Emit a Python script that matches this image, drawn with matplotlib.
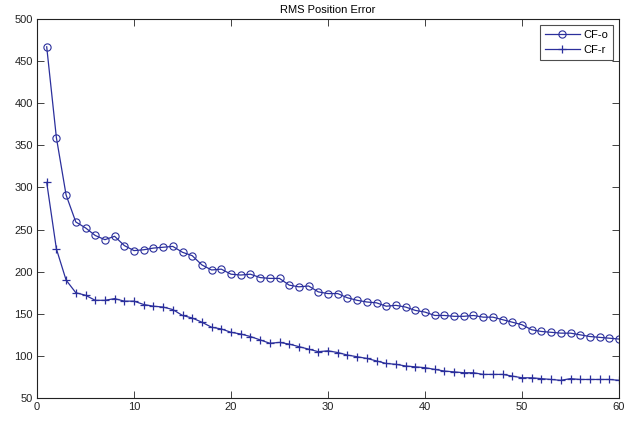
import matplotlib

matplotlib.use("Agg")
import matplotlib.pyplot as plt
import numpy as np

# Values.
steps = np.arange(1, 61)
cf_o = [
    467, 359, 291, 259, 252, 243, 238, 242, 231, 225,
    226, 228, 229, 230, 223, 219, 208, 202, 203, 197,
    196, 197, 193, 192, 192, 184, 182, 183, 176, 174,
    174, 169, 166, 164, 163, 159, 160, 158, 154, 152,
    148, 148, 147, 147, 148, 146, 146, 143, 140, 137,
    131, 129, 128, 127, 127, 125, 123, 122, 121, 120,
]
cf_r = [
    306, 227, 190, 175, 172, 166, 166, 168, 165, 165,
    161, 159, 158, 155, 148, 145, 140, 134, 132, 128,
    126, 123, 119, 115, 116, 114, 111, 108, 105, 106,
    104, 101, 99, 97, 94, 91, 90, 88, 87, 86,
    84, 82, 81, 80, 80, 78, 78, 78, 76, 74,
    74, 73, 72, 71, 73, 72, 72, 72, 72, 71,
]
x_ticks = [0, 10, 20, 30, 40, 50, 60]
y_ticks = [50, 100, 150, 200, 250, 300, 350, 400, 450, 500]

plt.rcParams["font.family"] = ["Liberation Sans", "DejaVu Sans"]

fig = plt.figure(figsize=(6.37, 4.21), dpi=100)
ax = fig.add_axes([37 / 637, 1 - 398 / 421, 582 / 637, 379 / 421])

color = "#2b2f9c"
ax.plot(steps, cf_o, color=color, linewidth=0.9, marker="o",
        markersize=5.2, markerfacecolor="none", markeredgewidth=0.8,
        label="CF-o")
ax.plot(steps, cf_r, color=color, linewidth=0.9, marker="+",
        markersize=6, markeredgewidth=0.9, label="CF-r")

ax.set_xlim(0, 60)
ax.set_ylim(50, 500)
ax.set_xticks(x_ticks)
ax.set_yticks(y_ticks)
ax.tick_params(direction="in", length=5, width=0.6, labelsize=8,
               top=True, right=True, pad=3, colors="#222222")
for spine in ax.spines.values():
    spine.set_linewidth(0.8)
    spine.set_color("#222222")
ax.set_title("RMS Position Error", fontsize=8, pad=4)

leg = ax.legend(loc="upper right", fontsize=8, fancybox=False,
                edgecolor="#222222", handlelength=3.2, borderpad=0.45,
                labelspacing=0.45, handletextpad=0.3, borderaxespad=0.5)
leg.get_frame().set_linewidth(0.8)

fig.savefig("out.png", dpi=100, facecolor="white")
